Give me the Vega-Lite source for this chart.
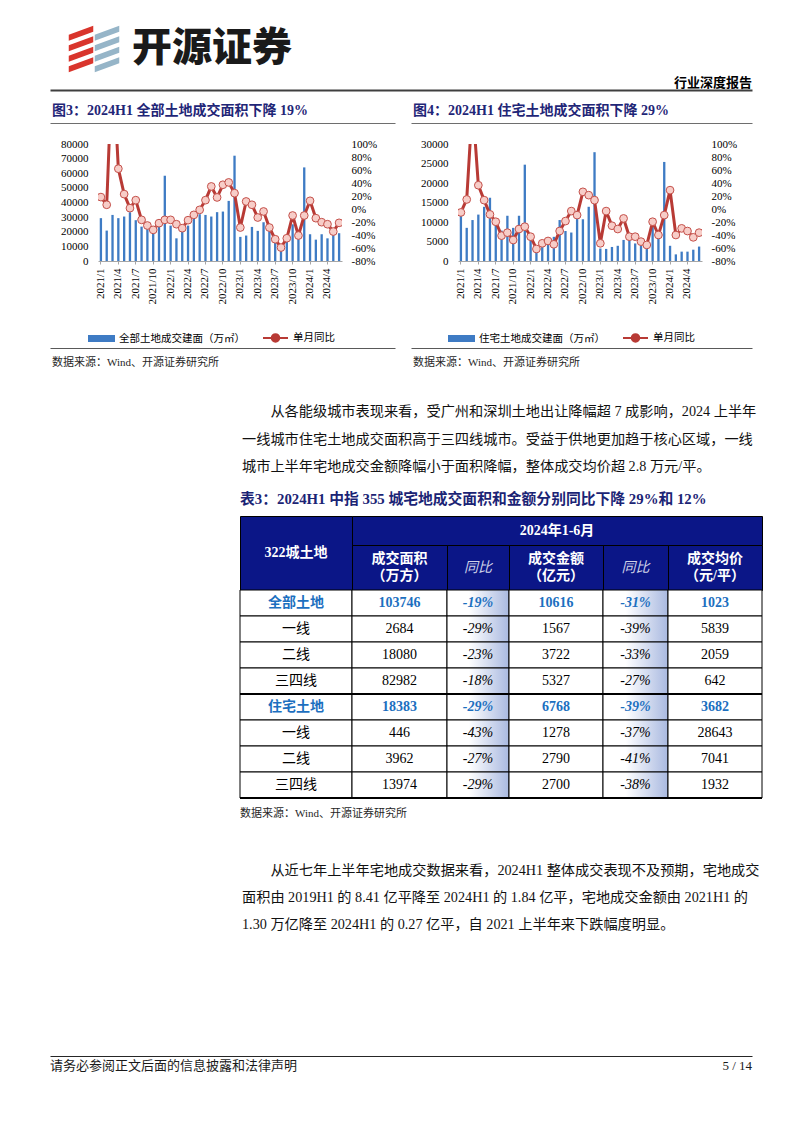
{
  "$schema": "https://vega.github.io/schema/vega-lite/v6.json",
  "background": "white",
  "padding": {"left": 50, "top": 0, "right": 0, "bottom": 0},
  "spacing": 0,
  "bounds": "flush",
  "resolve": {"scale": {"color": "independent"}},
  "config": {
    "view": {"stroke": null},
    "font": "'Liberation Serif','Noto Sans CJK SC'",
    "text": {"font": "'Liberation Serif','Noto Sans CJK SC'"},
    "axis": {"labelFont": "'Liberation Serif','Noto Sans CJK SC'", "titleFont": "'Liberation Serif','Noto Sans CJK SC'"},
    "legend": {"labelFont": "'Liberation Serif','Noto Sans CJK SC'"}
  },
  "datasets": {
    "c1": [
      {"month": "2021/1", "area": 29300, "yoy": 18.3},
      {"month": "2021/2", "area": 20800, "yoy": 6.5},
      {"month": "2021/3", "area": 31500, "yoy": 235},
      {"month": "2021/4", "area": 29300, "yoy": 62.0},
      {"month": "2021/5", "area": 30400, "yoy": 22.9},
      {"month": "2021/6", "area": 33400, "yoy": 1.3},
      {"month": "2021/7", "area": 27900, "yoy": 13.6},
      {"month": "2021/8", "area": 23500, "yoy": -16.7},
      {"month": "2021/9", "area": 24000, "yoy": -25.4},
      {"month": "2021/10", "area": 21000, "yoy": -32.1},
      {"month": "2021/11", "area": 24000, "yoy": -21.8},
      {"month": "2021/12", "area": 58300, "yoy": -16.7},
      {"month": "2022/1", "area": 24200, "yoy": -16.7},
      {"month": "2022/2", "area": 15500, "yoy": -23.4},
      {"month": "2022/3", "area": 21500, "yoy": -29.5},
      {"month": "2022/4", "area": 24200, "yoy": -17.2},
      {"month": "2022/5", "area": 28800, "yoy": -9.0},
      {"month": "2022/6", "area": 32000, "yoy": -1.3},
      {"month": "2022/7", "area": 31500, "yoy": 13.6},
      {"month": "2022/8", "area": 30400, "yoy": 34.7},
      {"month": "2022/9", "area": 33400, "yoy": 17.8},
      {"month": "2022/10", "area": 33800, "yoy": 37.3},
      {"month": "2022/11", "area": 41100, "yoy": 40.9},
      {"month": "2022/12", "area": 72000, "yoy": 24.4},
      {"month": "2023/1", "area": 16500, "yoy": -28.5},
      {"month": "2023/2", "area": 17400, "yoy": 11.6},
      {"month": "2023/3", "area": 23300, "yoy": 6.5},
      {"month": "2023/4", "area": 20600, "yoy": -13.1},
      {"month": "2023/5", "area": 26500, "yoy": -3.8},
      {"month": "2023/6", "area": 22400, "yoy": -28.5},
      {"month": "2023/7", "area": 15500, "yoy": -46.5},
      {"month": "2023/8", "area": 11400, "yoy": -59.3},
      {"month": "2023/9", "area": 13300, "yoy": -45.0},
      {"month": "2023/10", "area": 25100, "yoy": -10.0},
      {"month": "2023/11", "area": 16000, "yoy": -40.8},
      {"month": "2023/12", "area": 64000, "yoy": -10.0},
      {"month": "2024/1", "area": 18300, "yoy": 12.6},
      {"month": "2024/2", "area": 14600, "yoy": -14.1},
      {"month": "2024/3", "area": 18300, "yoy": -20.3},
      {"month": "2024/4", "area": 15500, "yoy": -23.4},
      {"month": "2024/5", "area": 17800, "yoy": -34.7},
      {"month": "2024/6", "area": 19000, "yoy": -21.3}
    ],
    "c2": [
      {"month": "2021/1", "area": 11800, "yoy": -5.3},
      {"month": "2021/2", "area": 8500, "yoy": 14.7},
      {"month": "2021/3", "area": 10500, "yoy": 163},
      {"month": "2021/4", "area": 11900, "yoy": 36.6},
      {"month": "2021/5", "area": 13900, "yoy": 13.6},
      {"month": "2021/6", "area": 16200, "yoy": -8.3},
      {"month": "2021/7", "area": 11000, "yoy": -19.6},
      {"month": "2021/8", "area": 7800, "yoy": -41.0},
      {"month": "2021/9", "area": 11600, "yoy": -36.4},
      {"month": "2021/10", "area": 8500, "yoy": -47.7},
      {"month": "2021/11", "area": 11600, "yoy": -30.8},
      {"month": "2021/12", "area": 24700, "yoy": -27.2},
      {"month": "2022/1", "area": 6600, "yoy": -42.6},
      {"month": "2022/2", "area": 2800, "yoy": -61.5},
      {"month": "2022/3", "area": 3700, "yoy": -52.8},
      {"month": "2022/4", "area": 4300, "yoy": -49.2},
      {"month": "2022/5", "area": 6200, "yoy": -54.3},
      {"month": "2022/6", "area": 10500, "yoy": -33.9},
      {"month": "2022/7", "area": 7700, "yoy": -18.6},
      {"month": "2022/8", "area": 7300, "yoy": -3.2},
      {"month": "2022/9", "area": 10900, "yoy": -9.4},
      {"month": "2022/10", "area": 10700, "yoy": 26.4},
      {"month": "2022/11", "area": 13900, "yoy": 21.3},
      {"month": "2022/12", "area": 27900, "yoy": 13.6},
      {"month": "2023/1", "area": 3200, "yoy": -52.8},
      {"month": "2023/2", "area": 3100, "yoy": -3.2},
      {"month": "2023/3", "area": 3600, "yoy": -25.7},
      {"month": "2023/4", "area": 3900, "yoy": -30.8},
      {"month": "2023/5", "area": 5400, "yoy": -14.5},
      {"month": "2023/6", "area": 5800, "yoy": -42.6},
      {"month": "2023/7", "area": 4500, "yoy": -42.6},
      {"month": "2023/8", "area": 3900, "yoy": -50.2},
      {"month": "2023/9", "area": 3200, "yoy": -55.3},
      {"month": "2023/10", "area": 9200, "yoy": -19.6},
      {"month": "2023/11", "area": 6600, "yoy": -40.0},
      {"month": "2023/12", "area": 25400, "yoy": -9.4},
      {"month": "2024/1", "area": 3900, "yoy": 29.0},
      {"month": "2024/2", "area": 1700, "yoy": -40.0},
      {"month": "2024/3", "area": 2400, "yoy": -29.8},
      {"month": "2024/4", "area": 2400, "yoy": -33.9},
      {"month": "2024/5", "area": 2900, "yoy": -43.6},
      {"month": "2024/6", "area": 3700, "yoy": -36.4}
    ],
    "tbl": [
      {"row": 1, "tier": "合计", "name": "全部土地", "area": 103746, "areaYoY": "-19%", "amount": 10616, "amountYoY": "-31%", "price": 1023},
      {"row": 2, "tier": "一线", "name": "一线", "area": 2684, "areaYoY": "-29%", "amount": 1567, "amountYoY": "-39%", "price": 5839},
      {"row": 3, "tier": "二线", "name": "二线", "area": 18080, "areaYoY": "-23%", "amount": 3722, "amountYoY": "-33%", "price": 2059},
      {"row": 4, "tier": "三四线", "name": "三四线", "area": 82982, "areaYoY": "-18%", "amount": 5327, "amountYoY": "-27%", "price": 642},
      {"row": 5, "tier": "合计", "name": "住宅土地", "area": 18383, "areaYoY": "-29%", "amount": 6768, "amountYoY": "-39%", "price": 3682},
      {"row": 6, "tier": "一线", "name": "一线", "area": 446, "areaYoY": "-43%", "amount": 1278, "amountYoY": "-37%", "price": 28643},
      {"row": 7, "tier": "二线", "name": "二线", "area": 3962, "areaYoY": "-27%", "amount": 2790, "amountYoY": "-41%", "price": 7041},
      {"row": 8, "tier": "三四线", "name": "三四线", "area": 13974, "areaYoY": "-29%", "amount": 2700, "amountYoY": "-38%", "price": 1932}
    ],
    "p1": [
      {"line": 1, "text": "\u200b　　从各能级城市表现来看，受广州和深圳土地出让降幅超 7 成影响，2024 上半年"},
      {"line": 2, "text": "一线城市住宅土地成交面积高于三四线城市。受益于供地更加趋于核心区域，一线"},
      {"line": 3, "text": "城市上半年宅地成交金额降幅小于面积降幅，整体成交均价超 2.8 万元/平。"}
    ],
    "p2": [
      {"line": 1, "text": "\u200b　　从近七年上半年宅地成交数据来看，2024H1 整体成交表现不及预期，宅地成交"},
      {"line": 2, "text": "面积由 2019H1 的 8.41 亿平降至 2024H1 的 1.84 亿平，宅地成交金额由 2021H1 的"},
      {"line": 3, "text": "1.30 万亿降至 2024H1 的 0.27 亿平，自 2021 上半年来下跌幅度明显。"}
    ]
  },
  "vconcat": [
    {"width": 702, "height": 28, "data": {"values": [{}]}, "mark": {"type": "point", "opacity": 0}, "encoding": {}},
    {
      "hconcat": [
        {"width": 18, "height": 1, "data": {"values": [{}]}, "mark": {"type": "point", "opacity": 0}, "encoding": {}},
        {
          "width": 52, "height": 42,
          "data": {"values": [
            {"part": "红", "k": 1}, {"part": "红", "k": 2}, {"part": "红", "k": 3}, {"part": "红", "k": 4},
            {"part": "蓝", "k": 1}, {"part": "蓝", "k": 2}, {"part": "蓝", "k": 3}, {"part": "蓝", "k": 4}
          ]},
          "mark": {"type": "point", "filled": true, "opacity": 1, "size": 600, "shape": "M-1,0.12L1,-0.62L1,-0.12L-1,0.62Z", "strokeWidth": 0},
          "encoding": {
            "x": {"field": "part", "type": "nominal", "sort": ["红", "蓝"], "axis": null},
            "y": {"field": "k", "type": "ordinal", "axis": null},
            "color": {"field": "part", "type": "nominal", "scale": {"domain": ["红", "蓝"], "range": ["#D9352C", "#96B5C8"]}, "legend": null}
          }
        },
        {"width": 12, "height": 1, "data": {"values": [{}]}, "mark": {"type": "point", "opacity": 0}, "encoding": {}},
        {
          "width": 200, "height": 42,
          "data": {"values": [{"t": "开源证券"}]},
          "mark": {"type": "text", "align": "left", "font": "'Noto Sans CJK SC'", "fontSize": 40, "fontWeight": 900, "color": "#1A1A1A"},
          "encoding": {"text": {"field": "t"}, "x": {"datum": 0, "type": "quantitative", "scale": {"domain": [0, 1]}, "axis": null}}
        }
      ],
      "spacing": 0, "bounds": "flush",
      "resolve": {"scale": {"color": "independent"}}
    },
    {"width": 702, "height": 42, "data": {"values": [{}]}, "mark": {"type": "point", "opacity": 0}, "encoding": {}},
    {
      "width": 702, "height": 20,
      "data": {"values": [{"t": "行业深度报告"}]},
      "mark": {"type": "text", "align": "right", "fontSize": 13, "fontWeight": "bold", "color": "#000000", "dy": 3},
      "encoding": {
        "text": {"field": "t"},
        "x": {"datum": 1, "type": "quantitative", "scale": {"domain": [0, 1]}, "axis": {"orient": "bottom", "labels": false, "ticks": false, "grid": false, "domain": true, "domainColor": "#3F3F3F", "domainWidth": 2, "title": null}}
      }
    },
    {
      "hconcat": [
        {
          "width": 345, "height": 33,
          "data": {"values": [{"t": "图3：2024H1 全部土地成交面积下降 19%"}]},
          "mark": {"type": "text", "align": "left", "dx": 2, "dy": 4, "fontSize": 14, "fontWeight": "bold", "color": "#1F2677"},
          "encoding": {"text": {"field": "t"}, "x": {"datum": 0, "type": "quantitative", "scale": {"domain": [0, 1]}, "axis": {"orient": "bottom", "labels": false, "ticks": false, "grid": false, "domainColor": "#6E6E6E", "domainWidth": 1.2, "title": null}}}
        },
        {
          "width": 341, "height": 33,
          "data": {"values": [{"t": "图4：2024H1 住宅土地成交面积下降 29%"}]},
          "mark": {"type": "text", "align": "left", "dx": 2, "dy": 4, "fontSize": 14, "fontWeight": "bold", "color": "#1F2677"},
          "encoding": {"text": {"field": "t"}, "x": {"datum": 0, "type": "quantitative", "scale": {"domain": [0, 1]}, "axis": {"orient": "bottom", "labels": false, "ticks": false, "grid": false, "domainColor": "#6E6E6E", "domainWidth": 1.2, "title": null}}}
        }
      ],
      "spacing": 16, "bounds": "flush"
    },
    {"width": 702, "height": 54, "data": {"values": [{}]}, "mark": {"type": "point", "opacity": 0}, "encoding": {}},
    {
      "hconcat": [
        {"width": 48, "height": 1, "data": {"values": [{}]}, "mark": {"type": "point", "opacity": 0}, "encoding": {}},
        {
          "width": 244, "height": 117,
          "data": {"name": "c1"},
          "encoding": {"x": {"field": "month", "type": "ordinal", "sort": null, "scale": {"paddingInner": 0.6, "paddingOuter": 0.3},
            "axis": {"values": ["2021/1", "2021/4", "2021/7", "2021/10", "2022/1", "2022/4", "2022/7", "2022/10", "2023/1", "2023/4", "2023/7", "2023/10", "2024/1", "2024/4"], "labelAngle": -90, "labelFontSize": 11, "labelColor": "#000000", "labelPadding": 4, "tickSize": 3, "tickColor": "#A6A6A6", "domainColor": "#A6A6A6", "domainWidth": 1, "grid": false, "title": null, "labelOverlap": false}}},
          "layer": [
            {"mark": {"type": "bar"}, "encoding": {
              "y": {"field": "area", "type": "quantitative", "scale": {"domain": [0, 80000], "nice": false}, "axis": {"orient": "left", "values": [0, 10000, 20000, 30000, 40000, 50000, 60000, 70000, 80000], "format": "d", "ticks": false, "domain": false, "grid": false, "labelPadding": 10, "labelFontSize": 11, "labelColor": "#000000", "labelFlush": false, "title": null}},
              "color": {"datum": "全部土地成交建面（万㎡）", "scale": {"domain": ["全部土地成交建面（万㎡）", "单月同比"], "range": ["#3E7BC4", "#B83A35"]},
                "legend": {"orient": "none", "legendX": -10, "legendY": 180, "direction": "horizontal", "title": null, "labelFontSize": 10.5, "labelColor": "#000000", "labelOffset": 4, "columnPadding": 14, "symbolSize": 625, "labelLimit": 200,
                  "encode": {"symbols": {"update": {
                    "shape": {"signal": "datum.value === '单月同比' ? 'M-1,0H-0.3M0.3,0H1M0.3,0A0.3,0.3,0,1,1,-0.3,0A0.3,0.3,0,1,1,0.3,0Z' : 'M-1,-0.2H1V0.2H-1Z'"},
                    "fill": {"signal": "datum.value === '单月同比' ? '#F7CDC8' : '#3E7BC4'"},
                    "stroke": {"signal": "datum.value === '单月同比' ? '#B83A35' : 'transparent'"},
                    "strokeWidth": {"value": 2},
                    "opacity": {"value": 1}
                  }}}}}
            }},
            {"mark": {"type": "line", "strokeWidth": 3, "clip": true, "strokeJoin": "round"}, "encoding": {
              "y": {"field": "yoy", "type": "quantitative", "scale": {"domain": [-80, 100], "nice": false}, "axis": {"orient": "right", "values": [-80, -60, -40, -20, 0, 20, 40, 60, 80, 100], "labelExpr": "datum.value + '%'", "ticks": false, "domain": false, "grid": false, "labelPadding": 9, "labelFontSize": 11, "labelColor": "#000000", "labelFlush": false, "title": null}},
              "color": {"datum": "单月同比"}
            }},
            {"mark": {"type": "point", "filled": true, "fill": "#F7CDC8", "stroke": "#C4504A", "strokeWidth": 1, "size": 60, "opacity": 1, "clip": true}, "encoding": {
              "y": {"field": "yoy", "type": "quantitative", "scale": {"domain": [-80, 100], "nice": false}, "axis": null}
            }}
          ],
          "resolve": {"scale": {"y": "independent"}}
        },
        {"width": 116, "height": 1, "data": {"values": [{}]}, "mark": {"type": "point", "opacity": 0}, "encoding": {}},
        {
          "width": 244, "height": 117,
          "data": {"name": "c2"},
          "encoding": {"x": {"field": "month", "type": "ordinal", "sort": null, "scale": {"paddingInner": 0.6, "paddingOuter": 0.3},
            "axis": {"values": ["2021/1", "2021/4", "2021/7", "2021/10", "2022/1", "2022/4", "2022/7", "2022/10", "2023/1", "2023/4", "2023/7", "2023/10", "2024/1", "2024/4"], "labelAngle": -90, "labelFontSize": 11, "labelColor": "#000000", "labelPadding": 4, "tickSize": 3, "tickColor": "#A6A6A6", "domainColor": "#A6A6A6", "domainWidth": 1, "grid": false, "title": null, "labelOverlap": false}}},
          "layer": [
            {"mark": {"type": "bar"}, "encoding": {
              "y": {"field": "area", "type": "quantitative", "scale": {"domain": [0, 30000], "nice": false}, "axis": {"orient": "left", "values": [0, 5000, 10000, 15000, 20000, 25000, 30000], "format": "d", "ticks": false, "domain": false, "grid": false, "labelPadding": 10, "labelFontSize": 11, "labelColor": "#000000", "labelFlush": false, "title": null}},
              "color": {"datum": "住宅土地成交建面（万㎡）", "scale": {"domain": ["住宅土地成交建面（万㎡）", "单月同比"], "range": ["#3E7BC4", "#B83A35"]},
                "legend": {"orient": "none", "legendX": -10, "legendY": 180, "direction": "horizontal", "title": null, "labelFontSize": 10.5, "labelColor": "#000000", "labelOffset": 4, "columnPadding": 14, "symbolSize": 625, "labelLimit": 200,
                  "encode": {"symbols": {"update": {
                    "shape": {"signal": "datum.value === '单月同比' ? 'M-1,0H-0.3M0.3,0H1M0.3,0A0.3,0.3,0,1,1,-0.3,0A0.3,0.3,0,1,1,0.3,0Z' : 'M-1,-0.2H1V0.2H-1Z'"},
                    "fill": {"signal": "datum.value === '单月同比' ? '#F7CDC8' : '#3E7BC4'"},
                    "stroke": {"signal": "datum.value === '单月同比' ? '#B83A35' : 'transparent'"},
                    "strokeWidth": {"value": 2},
                    "opacity": {"value": 1}
                  }}}}}
            }},
            {"mark": {"type": "line", "strokeWidth": 3, "clip": true, "strokeJoin": "round"}, "encoding": {
              "y": {"field": "yoy", "type": "quantitative", "scale": {"domain": [-80, 100], "nice": false}, "axis": {"orient": "right", "values": [-80, -60, -40, -20, 0, 20, 40, 60, 80, 100], "labelExpr": "datum.value + '%'", "ticks": false, "domain": false, "grid": false, "labelPadding": 9, "labelFontSize": 11, "labelColor": "#000000", "labelFlush": false, "title": null}},
              "color": {"datum": "单月同比"}
            }},
            {"mark": {"type": "point", "filled": true, "fill": "#F7CDC8", "stroke": "#C4504A", "strokeWidth": 1, "size": 60, "opacity": 1, "clip": true}, "encoding": {
              "y": {"field": "yoy", "type": "quantitative", "scale": {"domain": [-80, 100], "nice": false}, "axis": null}
            }}
          ],
          "resolve": {"scale": {"y": "independent"}}
        }
      ],
      "spacing": 0, "bounds": "flush",
      "resolve": {"scale": {"color": "independent"}}
    },
    {"width": 702, "height": 204, "data": {"values": [{}]}, "mark": {"type": "point", "opacity": 0}, "encoding": {}},
    {
      "hconcat": [
        {
          "width": 345, "height": 26,
          "data": {"values": [{"t": "数据来源：Wind、开源证券研究所"}]},
          "mark": {"type": "text", "align": "left", "dx": 2, "dy": 2, "fontSize": 11, "color": "#262626"},
          "encoding": {"text": {"field": "t"}, "x": {"datum": 0, "type": "quantitative", "scale": {"domain": [0, 1]}, "axis": {"orient": "top", "labels": false, "ticks": false, "grid": false, "domainColor": "#595959", "domainWidth": 1, "title": null}}}
        },
        {
          "width": 341, "height": 26,
          "data": {"values": [{"t": "数据来源：Wind、开源证券研究所"}]},
          "mark": {"type": "text", "align": "left", "dx": 2, "dy": 2, "fontSize": 11, "color": "#262626"},
          "encoding": {"text": {"field": "t"}, "x": {"datum": 0, "type": "quantitative", "scale": {"domain": [0, 1]}, "axis": {"orient": "top", "labels": false, "ticks": false, "grid": false, "domainColor": "#595959", "domainWidth": 1, "title": null}}}
        }
      ],
      "spacing": 16, "bounds": "flush"
    },
    {"width": 702, "height": 50, "data": {"values": [{}]}, "mark": {"type": "point", "opacity": 0}, "encoding": {}},
    {
      "hconcat": [
        {"width": 192, "height": 1, "data": {"values": [{}]}, "mark": {"type": "point", "opacity": 0}, "encoding": {}},
        {
          "width": 510, "height": 83,
          "data": {"name": "p1"},
          "mark": {"type": "text", "align": "left", "fontSize": 14.2, "color": "#111111"},
          "encoding": {
            "x": {"datum": 0, "type": "quantitative", "scale": {"domain": [0, 1]}, "axis": null},
            "y": {"field": "line", "type": "ordinal", "axis": null},
            "text": {"field": "text"}
          }
        }
      ],
      "spacing": 0, "bounds": "flush"
    },
    {"width": 702, "height": 92, "data": {"values": [{}]}, "mark": {"type": "point", "opacity": 0}, "encoding": {}},
    {
      "hconcat": [
        {"width": 190, "height": 1, "data": {"values": [{}]}, "mark": {"type": "point", "opacity": 0}, "encoding": {}},
        {
          "vconcat": [
            {
              "width": 522, "height": 20,
              "data": {"values": [{"t": "表3：2024H1 中指 355 城宅地成交面积和金额分别同比下降 29%和 12%"}]},
              "mark": {"type": "text", "align": "left", "fontSize": 14.8, "fontWeight": "bold", "color": "#1B2475"},
              "encoding": {"text": {"field": "t"}, "x": {"datum": 0, "type": "quantitative", "scale": {"domain": [0, 1]}, "axis": null}}
            },
            {"width": 522, "height": 6, "data": {"values": [{}]}, "mark": {"type": "point", "opacity": 0}, "encoding": {}},
            {
              "hconcat": [
                {
                  "width": 112, "height": 74,
                  "view": {"fill": "#0B1687", "stroke": "#000000", "strokeWidth": 1},
                  "data": {"values": [{"t": "322城土地"}]},
                  "mark": {"type": "text", "fontSize": 14, "fontWeight": "bold", "color": "#FFFFFF"},
                  "encoding": {"text": {"field": "t"}}
                },
                {
                  "width": 410, "height": 29,
                  "view": {"fill": "#0B1687", "stroke": "#000000", "strokeWidth": 1},
                  "data": {"values": [{"t": "2024年1-6月"}]},
                  "mark": {"type": "text", "fontSize": 14, "fontWeight": "bold", "color": "#FFFFFF"},
                  "encoding": {"text": {"field": "t"}}
                }
              ],
              "spacing": 0, "bounds": "flush"
            },
            {"width": 522, "height": 29, "data": {"values": [{}]}, "mark": {"type": "point", "opacity": 0}, "encoding": {}},
            {
              "hconcat": [
                {"width": 112, "height": 1, "data": {"values": [{}]}, "mark": {"type": "point", "opacity": 0}, "encoding": {}},
                {
                  "width": 95, "height": 45,
                  "view": {"fill": "#0B1687", "stroke": "#000000", "strokeWidth": 1},
                  "data": {"values": [{"t": "成交面积\n（万方）"}]},
                  "mark": {"type": "text", "fontSize": 14, "fontWeight": "bold", "color": "#FFFFFF", "lineBreak": "\n", "lineHeight": 17, "dy": -8.5},
                  "encoding": {"text": {"field": "t"}}
                },
                {
                  "width": 62, "height": 45,
                  "view": {"fill": "#0B1687", "stroke": "#000000", "strokeWidth": 1},
                  "data": {"values": [{"t": "同比"}]},
                  "mark": {"type": "text", "fontSize": 14, "fontStyle": "italic", "color": "#D0D3E8"},
                  "encoding": {"text": {"field": "t"}}
                },
                {
                  "width": 94, "height": 45,
                  "view": {"fill": "#0B1687", "stroke": "#000000", "strokeWidth": 1},
                  "data": {"values": [{"t": "成交金额\n（亿元）"}]},
                  "mark": {"type": "text", "fontSize": 14, "fontWeight": "bold", "color": "#FFFFFF", "lineBreak": "\n", "lineHeight": 17, "dy": -8.5},
                  "encoding": {"text": {"field": "t"}}
                },
                {
                  "width": 65, "height": 45,
                  "view": {"fill": "#0B1687", "stroke": "#000000", "strokeWidth": 1},
                  "data": {"values": [{"t": "同比"}]},
                  "mark": {"type": "text", "fontSize": 14, "fontStyle": "italic", "color": "#D0D3E8"},
                  "encoding": {"text": {"field": "t"}}
                },
                {
                  "width": 94, "height": 45,
                  "view": {"fill": "#0B1687", "stroke": "#000000", "strokeWidth": 1},
                  "data": {"values": [{"t": "成交均价\n（元/平）"}]},
                  "mark": {"type": "text", "fontSize": 14, "fontWeight": "bold", "color": "#FFFFFF", "lineBreak": "\n", "lineHeight": 17, "dy": -8.5},
                  "encoding": {"text": {"field": "t"}}
                }
              ],
              "spacing": 0, "bounds": "flush"
            },
            {"width": 522, "height": 45, "data": {"values": [{}]}, "mark": {"type": "point", "opacity": 0}, "encoding": {}},
            {
              "hconcat": [
                {
                  "width": 112, "height": 208, "data": {"name": "tbl"},
                  "encoding": {"y": {"field": "row", "type": "ordinal", "axis": null, "scale": {"paddingInner": 0, "paddingOuter": 0}}},
                  "layer": [
                    {"mark": {"type": "rect", "fill": "#FFFFFF", "stroke": "#000000", "strokeWidth": 1}, "encoding": {"x": {"datum": 0, "type": "quantitative", "scale": {"domain": [0, 1]}, "axis": null}, "x2": {"datum": 1}}},
                    {"transform": [{"filter": "datum.tier !== '合计'"}], "mark": {"type": "text", "fontSize": 14, "color": "#000000"}, "encoding": {"text": {"field": "name", "type": "nominal"}}},
                    {"transform": [{"filter": "datum.tier === '合计'"}], "mark": {"type": "text", "fontSize": 14, "fontWeight": "bold", "color": "#1C6FBF"}, "encoding": {"text": {"field": "name", "type": "nominal"}}},
                    {"transform": [{"filter": "datum.tier === '三四线'"}], "mark": {"type": "rule", "strokeWidth": 2, "color": "#000000"}, "encoding": {"y": {"field": "row", "type": "ordinal", "bandPosition": 1}, "x": {"datum": 0, "type": "quantitative"}, "x2": {"datum": 1}}}
                  ]
                },
                {
                  "width": 95, "height": 208, "data": {"name": "tbl"},
                  "encoding": {"y": {"field": "row", "type": "ordinal", "axis": null, "scale": {"paddingInner": 0, "paddingOuter": 0}}},
                  "layer": [
                    {"mark": {"type": "rect", "fill": "#FFFFFF", "stroke": "#000000", "strokeWidth": 1}, "encoding": {"x": {"datum": 0, "type": "quantitative", "scale": {"domain": [0, 1]}, "axis": null}, "x2": {"datum": 1}}},
                    {"transform": [{"filter": "datum.tier !== '合计'"}], "mark": {"type": "text", "fontSize": 14, "color": "#000000"}, "encoding": {"text": {"field": "area", "type": "nominal"}}},
                    {"transform": [{"filter": "datum.tier === '合计'"}], "mark": {"type": "text", "fontSize": 14, "fontWeight": "bold", "color": "#1C6FBF"}, "encoding": {"text": {"field": "area", "type": "nominal"}}},
                    {"transform": [{"filter": "datum.tier === '三四线'"}], "mark": {"type": "rule", "strokeWidth": 2, "color": "#000000"}, "encoding": {"y": {"field": "row", "type": "ordinal", "bandPosition": 1}, "x": {"datum": 0, "type": "quantitative"}, "x2": {"datum": 1}}}
                  ]
                },
                {
                  "width": 62, "height": 208, "data": {"name": "tbl"},
                  "encoding": {"y": {"field": "row", "type": "ordinal", "axis": null, "scale": {"paddingInner": 0, "paddingOuter": 0}}},
                  "layer": [
                    {"mark": {"type": "rect", "fill": {"gradient": "linear", "x1": 0, "y1": 0, "x2": 1, "y2": 0, "stops": [{"offset": 0, "color": "#FFFFFF"}, {"offset": 0.35, "color": "#FFFFFF"}, {"offset": 1, "color": "#A9B9E0"}]}, "stroke": "#000000", "strokeWidth": 1}, "encoding": {"x": {"datum": 0, "type": "quantitative", "scale": {"domain": [0, 1]}, "axis": null}, "x2": {"datum": 1}}},
                    {"transform": [{"filter": "datum.tier !== '合计'"}], "mark": {"type": "text", "fontSize": 14, "fontStyle": "italic", "color": "#000000"}, "encoding": {"text": {"field": "areaYoY", "type": "nominal"}}},
                    {"transform": [{"filter": "datum.tier === '合计'"}], "mark": {"type": "text", "fontSize": 14, "fontStyle": "italic", "fontWeight": "bold", "color": "#1C6FBF"}, "encoding": {"text": {"field": "areaYoY", "type": "nominal"}}},
                    {"transform": [{"filter": "datum.tier === '三四线'"}], "mark": {"type": "rule", "strokeWidth": 2, "color": "#000000"}, "encoding": {"y": {"field": "row", "type": "ordinal", "bandPosition": 1}, "x": {"datum": 0, "type": "quantitative"}, "x2": {"datum": 1}}}
                  ]
                },
                {
                  "width": 94, "height": 208, "data": {"name": "tbl"},
                  "encoding": {"y": {"field": "row", "type": "ordinal", "axis": null, "scale": {"paddingInner": 0, "paddingOuter": 0}}},
                  "layer": [
                    {"mark": {"type": "rect", "fill": "#FFFFFF", "stroke": "#000000", "strokeWidth": 1}, "encoding": {"x": {"datum": 0, "type": "quantitative", "scale": {"domain": [0, 1]}, "axis": null}, "x2": {"datum": 1}}},
                    {"transform": [{"filter": "datum.tier !== '合计'"}], "mark": {"type": "text", "fontSize": 14, "color": "#000000"}, "encoding": {"text": {"field": "amount", "type": "nominal"}}},
                    {"transform": [{"filter": "datum.tier === '合计'"}], "mark": {"type": "text", "fontSize": 14, "fontWeight": "bold", "color": "#1C6FBF"}, "encoding": {"text": {"field": "amount", "type": "nominal"}}},
                    {"transform": [{"filter": "datum.tier === '三四线'"}], "mark": {"type": "rule", "strokeWidth": 2, "color": "#000000"}, "encoding": {"y": {"field": "row", "type": "ordinal", "bandPosition": 1}, "x": {"datum": 0, "type": "quantitative"}, "x2": {"datum": 1}}}
                  ]
                },
                {
                  "width": 65, "height": 208, "data": {"name": "tbl"},
                  "encoding": {"y": {"field": "row", "type": "ordinal", "axis": null, "scale": {"paddingInner": 0, "paddingOuter": 0}}},
                  "layer": [
                    {"mark": {"type": "rect", "fill": {"gradient": "linear", "x1": 0, "y1": 0, "x2": 1, "y2": 0, "stops": [{"offset": 0, "color": "#FFFFFF"}, {"offset": 0.35, "color": "#FFFFFF"}, {"offset": 1, "color": "#A9B9E0"}]}, "stroke": "#000000", "strokeWidth": 1}, "encoding": {"x": {"datum": 0, "type": "quantitative", "scale": {"domain": [0, 1]}, "axis": null}, "x2": {"datum": 1}}},
                    {"transform": [{"filter": "datum.tier !== '合计'"}], "mark": {"type": "text", "fontSize": 14, "fontStyle": "italic", "color": "#000000"}, "encoding": {"text": {"field": "amountYoY", "type": "nominal"}}},
                    {"transform": [{"filter": "datum.tier === '合计'"}], "mark": {"type": "text", "fontSize": 14, "fontStyle": "italic", "fontWeight": "bold", "color": "#1C6FBF"}, "encoding": {"text": {"field": "amountYoY", "type": "nominal"}}},
                    {"transform": [{"filter": "datum.tier === '三四线'"}], "mark": {"type": "rule", "strokeWidth": 2, "color": "#000000"}, "encoding": {"y": {"field": "row", "type": "ordinal", "bandPosition": 1}, "x": {"datum": 0, "type": "quantitative"}, "x2": {"datum": 1}}}
                  ]
                },
                {
                  "width": 94, "height": 208, "data": {"name": "tbl"},
                  "encoding": {"y": {"field": "row", "type": "ordinal", "axis": null, "scale": {"paddingInner": 0, "paddingOuter": 0}}},
                  "layer": [
                    {"mark": {"type": "rect", "fill": "#FFFFFF", "stroke": "#000000", "strokeWidth": 1}, "encoding": {"x": {"datum": 0, "type": "quantitative", "scale": {"domain": [0, 1]}, "axis": null}, "x2": {"datum": 1}}},
                    {"transform": [{"filter": "datum.tier !== '合计'"}], "mark": {"type": "text", "fontSize": 14, "color": "#000000"}, "encoding": {"text": {"field": "price", "type": "nominal"}}},
                    {"transform": [{"filter": "datum.tier === '合计'"}], "mark": {"type": "text", "fontSize": 14, "fontWeight": "bold", "color": "#1C6FBF"}, "encoding": {"text": {"field": "price", "type": "nominal"}}},
                    {"transform": [{"filter": "datum.tier === '三四线'"}], "mark": {"type": "rule", "strokeWidth": 2, "color": "#000000"}, "encoding": {"y": {"field": "row", "type": "ordinal", "bandPosition": 1}, "x": {"datum": 0, "type": "quantitative"}, "x2": {"datum": 1}}}
                  ]
                }
              ],
              "spacing": 0, "bounds": "flush"
            },
            {"width": 522, "height": 208, "data": {"values": [{}]}, "mark": {"type": "point", "opacity": 0}, "encoding": {}},
            {
              "width": 522, "height": 32,
              "data": {"values": [{"t": "数据来源：Wind、开源证券研究所"}]},
              "mark": {"type": "text", "align": "left", "fontSize": 11, "color": "#262626"},
              "encoding": {"text": {"field": "t"}, "x": {"datum": 0, "type": "quantitative", "scale": {"domain": [0, 1]}, "axis": null}}
            }
          ],
          "spacing": 0, "bounds": "flush"
        }
      ],
      "spacing": 0, "bounds": "flush"
    },
    {"width": 702, "height": 367, "data": {"values": [{}]}, "mark": {"type": "point", "opacity": 0}, "encoding": {}},
    {
      "hconcat": [
        {"width": 192, "height": 1, "data": {"values": [{}]}, "mark": {"type": "point", "opacity": 0}, "encoding": {}},
        {
          "width": 510, "height": 81,
          "data": {"name": "p2"},
          "mark": {"type": "text", "align": "left", "fontSize": 14.2, "color": "#111111"},
          "encoding": {
            "x": {"datum": 0, "type": "quantitative", "scale": {"domain": [0, 1]}, "axis": null},
            "y": {"field": "line", "type": "ordinal", "axis": null},
            "text": {"field": "text"}
          }
        }
      ],
      "spacing": 0, "bounds": "flush"
    },
    {"width": 702, "height": 199, "data": {"values": [{}]}, "mark": {"type": "point", "opacity": 0}, "encoding": {}},
    {
      "width": 702, "height": 22,
      "layer": [
        {
          "data": {"values": [{"t": "请务必参阅正文后面的信息披露和法律声明"}]},
          "mark": {"type": "text", "align": "left", "fontSize": 13, "color": "#1A1A1A", "dy": -1},
          "encoding": {"text": {"field": "t"}, "x": {"datum": 0, "type": "quantitative", "scale": {"domain": [0, 1]}, "axis": {"orient": "top", "labels": false, "ticks": false, "grid": false, "domainColor": "#262626", "domainWidth": 1, "title": null}}}
        },
        {
          "data": {"values": [{"t": "5 / 14"}]},
          "mark": {"type": "text", "align": "right", "fontSize": 13, "color": "#1A1A1A", "dy": -1},
          "encoding": {"text": {"field": "t"}, "x": {"datum": 1, "type": "quantitative"}}
        }
      ]
    }
  ]
}
